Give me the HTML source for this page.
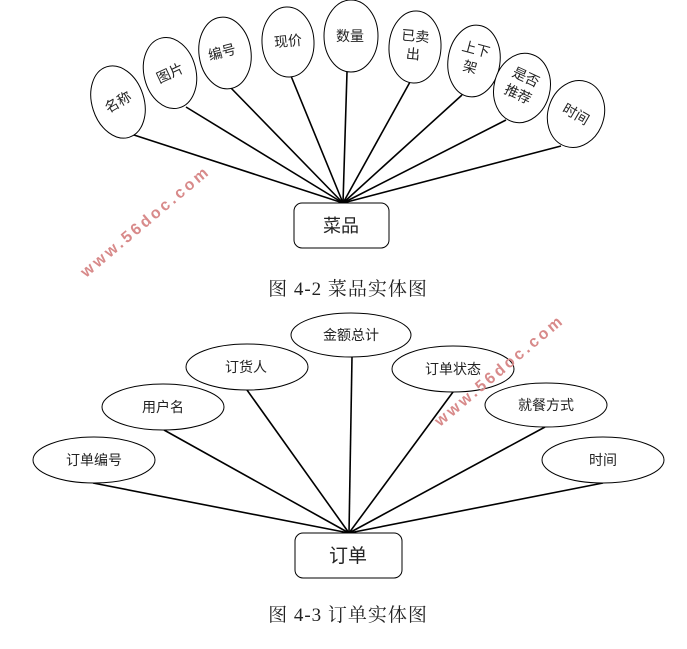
<!DOCTYPE html>
<html><head><meta charset="utf-8"><style>
html,body{margin:0;padding:0;background:#fff;}
svg{display:block;}
text{font-family:"Liberation Sans","Noto Sans CJK SC",sans-serif;fill:#222;}
.cap{font-family:"Liberation Serif","Noto Serif CJK SC",serif;font-size:19px;letter-spacing:1px;}
.wm{font-family:"Liberation Sans",sans-serif;font-weight:bold;font-size:16px;fill:#d88a8a;letter-spacing:3px;}
</style></head><body>
<svg width="687" height="649" viewBox="0 0 687 649" xmlns="http://www.w3.org/2000/svg">
<g stroke="#000" stroke-width="1.6" fill="none">
<line x1="343" y1="203" x2="134" y2="135"/>
<line x1="343" y1="203" x2="186" y2="107"/>
<line x1="343" y1="203" x2="230" y2="87"/>
<line x1="343" y1="203" x2="291" y2="76"/>
<line x1="343" y1="203" x2="347" y2="72"/>
<line x1="343" y1="203" x2="410" y2="82"/>
<line x1="343" y1="203" x2="462" y2="95"/>
<line x1="343" y1="203" x2="506" y2="120"/>
<line x1="343" y1="203" x2="561" y2="146"/>
<line x1="349" y1="533" x2="93" y2="483"/>
<line x1="349" y1="533" x2="164" y2="430"/>
<line x1="349" y1="533" x2="247" y2="390"/>
<line x1="349" y1="533" x2="352" y2="357"/>
<line x1="349" y1="533" x2="453" y2="392"/>
<line x1="349" y1="533" x2="545" y2="427"/>
<line x1="349" y1="533" x2="603" y2="483"/>
</g>
<g stroke="#000" stroke-width="1" fill="#fff">
<ellipse cx="118" cy="102" rx="26" ry="37" transform="rotate(-18 118 102)"/>
<ellipse cx="170" cy="73" rx="26" ry="36" transform="rotate(-14 170 73)"/>
<ellipse cx="225" cy="53" rx="26" ry="36" transform="rotate(-8 225 53)"/>
<ellipse cx="288" cy="42" rx="26" ry="35" transform="rotate(-3 288 42)"/>
<ellipse cx="351" cy="36" rx="27" ry="36"/>
<ellipse cx="415" cy="47" rx="26" ry="36" transform="rotate(3 415 47)"/>
<ellipse cx="474" cy="61" rx="26" ry="36" transform="rotate(8 474 61)"/>
<ellipse cx="522" cy="88" rx="28" ry="35" transform="rotate(14 522 88)"/>
<ellipse cx="576" cy="114" rx="28" ry="34" transform="rotate(18 576 114)"/>
<rect x="294" y="203" width="95" height="45" rx="8" ry="8"/>
<ellipse cx="351" cy="335" rx="60" ry="22"/>
<ellipse cx="247" cy="367" rx="61" ry="23"/>
<ellipse cx="163" cy="407" rx="61" ry="23"/>
<ellipse cx="94" cy="460" rx="61" ry="23"/>
<ellipse cx="453" cy="369" rx="61" ry="23"/>
<ellipse cx="546" cy="405" rx="61" ry="22"/>
<ellipse cx="603" cy="460" rx="61" ry="23"/>
<rect x="295" y="533" width="107" height="45" rx="8" ry="8"/>
</g>
<g font-size="14" text-anchor="middle">
<text x="118" y="107" transform="rotate(-30 118 102)">名称</text>
<text x="170" y="78" transform="rotate(-25 170 73)">图片</text>
<text x="222" y="57" transform="rotate(-15 222 52)">编号</text>
<text x="288" y="46" transform="rotate(-5 288 41)">现价</text>
<text x="350" y="41">数量</text>
<text x="415" y="41" transform="rotate(5 415 41)">已卖</text>
<text x="413" y="59" transform="rotate(5 413 54)">出</text>
<text x="476" y="54" transform="rotate(15 476 49)">上下</text>
<text x="470" y="72" transform="rotate(15 470 67)">架</text>
<text x="526" y="82" transform="rotate(25 526 77)">是否</text>
<text x="518" y="99" transform="rotate(25 518 94)">推荐</text>
<text x="576" y="119" transform="rotate(30 576 114)">时间</text>
<text x="341" y="232" font-size="18">菜品</text>
<text x="351" y="340">金额总计</text>
<text x="246" y="372">订货人</text>
<text x="163" y="412">用户名</text>
<text x="94" y="465">订单编号</text>
<text x="453" y="374">订单状态</text>
<text x="546" y="410">就餐方式</text>
<text x="603" y="465">时间</text>
<text x="348" y="562" font-size="19">订单</text>
</g>
<text class="cap" x="348" y="295" text-anchor="middle">图 4-2 菜品实体图</text>
<text class="cap" x="348" y="621" text-anchor="middle">图 4-3 订单实体图</text>
<text class="wm" x="86" y="278" transform="rotate(-40 86 278)">www.56doc.com</text>
<text class="wm" x="440" y="427" transform="rotate(-40 440 427)">www.56doc.com</text>
</svg>
</body></html>
